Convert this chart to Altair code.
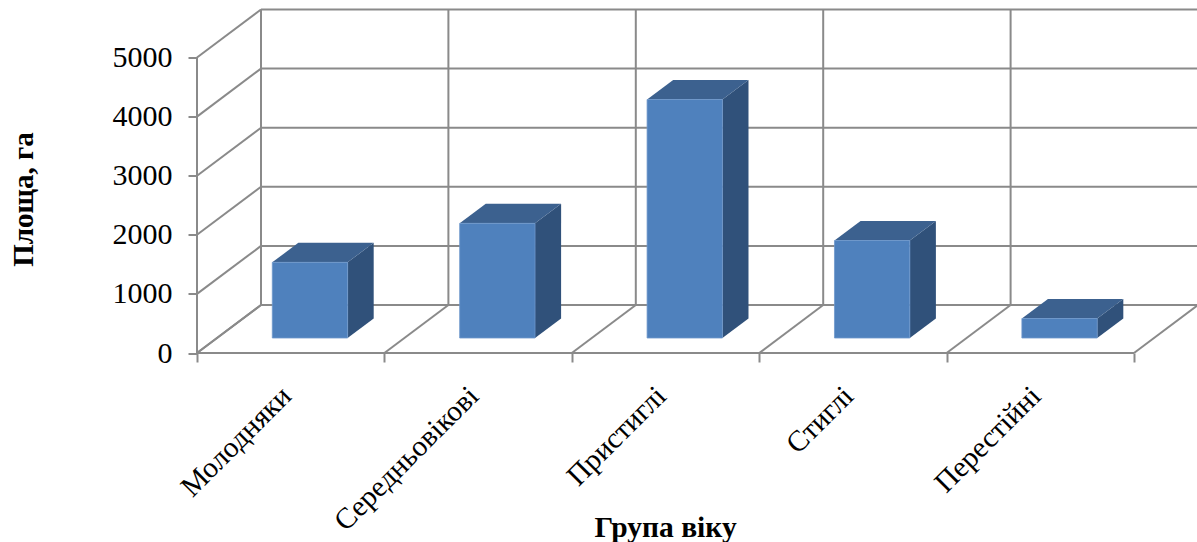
import json
import altair as alt
import pandas as pd

# Forest stand area by age group
categories = ["Молодняки", "Середньовікові", "Пристиглі", "Стиглі", "Перестійні"]
areas = [1280, 1940, 4035, 1650, 330]
y_ticks = [0, 1000, 2000, 3000, 4000, 5000]

# Oblique projection: one unit of depth shifts a point right and up (in axis units)
DEPTH_X = 0.3415
DEPTH_Y = 812
BAR_START = 0.295
BAR_WIDTH = 0.402
BAR_FRONT = 0.3125
BAR_BACK = 0.72

X_MAX = 1000 / 187.4
Y_MAX = 5812

GRID = "#8a8a8a"
FRONT = "#4f81bd"
TOP = "#3c618f"
SIDE = "#30517a"
FONT = "Liberation Serif"


def project(x, value, depth):
    return x + depth * DEPTH_X, value + depth * DEPTH_Y


def frame_lines():
    n = len(categories)
    segments = []
    for v in y_ticks:
        segments.append(((0, v, 1), (n, v, 1)))
        segments.append(((0, v, 0), (0, v, 1)))
    for i in range(n + 1):
        segments.append(((i, 0, 1), (i, y_ticks[-1], 1)))
        segments.append(((i, 0, 0), (i, 0, 1)))
    segments.append(((0, 0, 0), (0, y_ticks[-1], 0)))
    segments.append(((0, 0, 0), (n, 0, 0)))
    rows = []
    for seg, (a, b) in enumerate(segments):
        for step, point in enumerate((a, b)):
            px, py = project(*point)
            rows.append({"seg": seg, "step": step, "x": px, "y": py})
    return pd.DataFrame(rows)


front_rows, top_rows, side_rows = [], [], []
for i, (name, area) in enumerate(zip(categories, areas)):
    x0 = i + BAR_START
    x1 = x0 + BAR_WIDTH
    fx0, fy0 = project(x0, 0, BAR_FRONT)
    fx1, fy1 = project(x1, area, BAR_FRONT)
    front_rows.append({"name": name, "x": fx0, "x2": fx1, "y": fy0, "y2": fy1})
    for depth in (BAR_FRONT, BAR_BACK):
        ax, ay = project(x0, area, depth)
        bx, _ = project(x1, area, depth)
        top_rows.append({"name": name, "x": ax, "x2": bx, "y": ay})
        sx, sy = project(x1, 0, depth)
        _, sy2 = project(x1, area, depth)
        side_rows.append({"name": name, "x": sx, "y": sy, "y2": sy2})

x_scale = alt.Scale(domain=[0, X_MAX], nice=False, zero=False)
y_scale = alt.Scale(domain=[0, Y_MAX], nice=False, zero=False)

label_expr = "(" + json.dumps(categories + [""], ensure_ascii=False) + ")[datum.value]"

x_axis = alt.Axis(
    values=list(range(len(categories) + 1)),
    labelExpr=label_expr,
    labelAngle=-45,
    labelAlign="right",
    labelBaseline="middle",
    labelOffset=89,
    labelPadding=29,
    labelFont=FONT,
    labelFontSize=29.3,
    labelColor="black",
    labelLimit=400,
    labelOverlap=False,
    labelFlush=False,
    labelBound=False,
    domain=False,
    grid=False,
    tickSize=9,
    tickColor=GRID,
    tickWidth=2,
    title="Група віку",
    titleFont=FONT,
    titleFontSize=29.5,
    titleFontWeight="bold",
    titleColor="black",
    titleX=468,
    titleY=174,
    titleAlign="center",
    titleBaseline="middle",
)
y_axis = alt.Axis(
    values=y_ticks,
    format="d",
    labelFont=FONT,
    labelFontSize=30,
    labelColor="black",
    labelPadding=16,
    labelOverlap=False,
    labelFlush=False,
    labelBound=False,
    domain=False,
    grid=False,
    tickSize=9,
    tickColor=GRID,
    tickWidth=2,
    title="Площа, га",
    titleFont=FONT,
    titleFontSize=29,
    titleFontWeight="bold",
    titleColor="black",
    titleX=23 - 197,
    titleY=199 - 9.5,
    titleAngle=-90,
    titleAlign="center",
    titleBaseline="middle",
)

lines = (
    alt.Chart(frame_lines())
    .mark_line(color=GRID, strokeWidth=2, clip=False)
    .encode(
        x=alt.X("x:Q", scale=x_scale, axis=x_axis),
        y=alt.Y("y:Q", scale=y_scale, axis=y_axis),
        detail="seg:N",
        order="step:Q",
    )
)

side = (
    alt.Chart(pd.DataFrame(side_rows))
    .mark_area(color=SIDE, line=False)
    .encode(
        x=alt.X("x:Q", scale=x_scale, axis=x_axis),
        y=alt.Y("y:Q", scale=y_scale, axis=y_axis),
        y2="y2:Q",
        detail="name:N",
    )
)

top = (
    alt.Chart(pd.DataFrame(top_rows))
    .mark_area(color=TOP, orient="horizontal", line=False)
    .encode(
        y=alt.Y("y:Q", scale=y_scale, axis=y_axis),
        x=alt.X("x:Q", scale=x_scale, axis=x_axis),
        x2="x2:Q",
        detail="name:N",
    )
)

front = (
    alt.Chart(pd.DataFrame(front_rows))
    .mark_rect(color=FRONT, stroke="#6f98cb", strokeWidth=0.8)
    .encode(
        x=alt.X("x:Q", scale=x_scale, axis=x_axis),
        x2="x2:Q",
        y=alt.Y("y:Q", scale=y_scale, axis=y_axis),
        y2="y2:Q",
    )
)

chart = (
    alt.layer(lines, side, top, front)
    .properties(
        width=1000,
        height=343.5,
        padding={"left": 197, "top": 9.5, "right": 0, "bottom": 189},
        autosize=alt.AutoSizeParams(type="none"),
        background="white",
    )
    .configure_view(stroke=None)
)

chart.save("out.html", embed_options={"renderer": "svg", "actions": False})
